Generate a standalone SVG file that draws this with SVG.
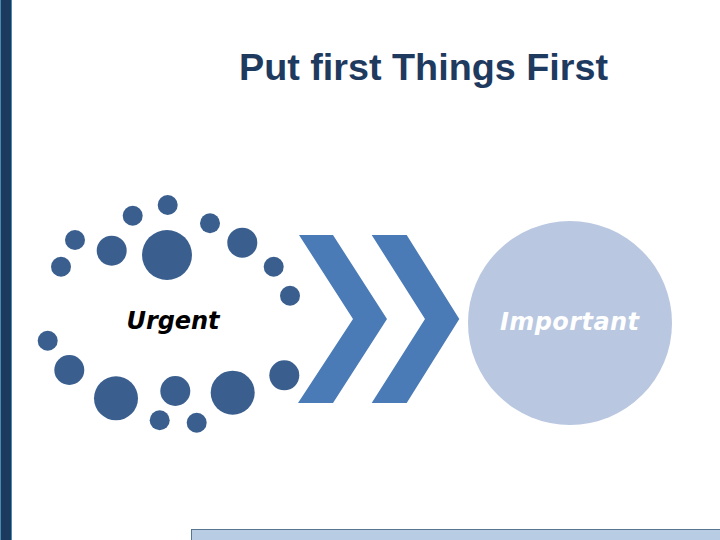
<svg xmlns="http://www.w3.org/2000/svg" width="720" height="540" viewBox="0 0 720 540">
<style>
.dot{fill:#3A5F8F}
.chev{fill:#4A7BB7}
.title{font-family:"Liberation Sans",Arial,sans-serif;font-weight:bold;font-size:37.5px;fill:#1F3A5F}
.lbl{font-family:"DejaVu Sans",Verdana,sans-serif;font-style:italic;font-weight:bold;font-size:24px}
</style>
<rect width="720" height="540" fill="#FFFFFF"/>
<g id="sidebar">
<rect x="0" y="0" width="12" height="540" fill="#1C3A5E"/>
<rect x="0" y="0" width="1" height="540" fill="#4A8AB0"/>
<rect x="11" y="0" width="1" height="540" fill="#4A8AB0"/>
</g>
<g id="footer-bar">
<rect x="191.5" y="529.5" width="530" height="12" fill="#B8CCE4" stroke="#5A7590" stroke-width="1"/>
</g>
<g id="title">
<text class="title" x="239" y="80" textLength="369" lengthAdjust="spacingAndGlyphs">Put first Things First</text>
</g>
<g id="urgent">
<circle class="dot" cx="167.7" cy="205" r="10"/>
<circle class="dot" cx="132.7" cy="215.7" r="10"/>
<circle class="dot" cx="75" cy="240" r="10"/>
<circle class="dot" cx="61" cy="266.7" r="10"/>
<circle class="dot" cx="111.7" cy="250.7" r="15"/>
<circle class="dot" cx="167" cy="255" r="25"/>
<circle class="dot" cx="210" cy="223.3" r="10"/>
<circle class="dot" cx="242.3" cy="242.7" r="15"/>
<circle class="dot" cx="273.7" cy="266.7" r="10"/>
<circle class="dot" cx="290" cy="295.7" r="10"/>
<circle class="dot" cx="47.7" cy="340.7" r="10"/>
<circle class="dot" cx="69.3" cy="370" r="15"/>
<circle class="dot" cx="116" cy="398.3" r="22"/>
<circle class="dot" cx="175.3" cy="391" r="15"/>
<circle class="dot" cx="159.7" cy="420.3" r="10"/>
<circle class="dot" cx="196.7" cy="422.7" r="10"/>
<circle class="dot" cx="232.7" cy="392.7" r="22"/>
<circle class="dot" cx="284.3" cy="375.3" r="15"/>
<text class="lbl" x="126.5" y="329" textLength="93" fill="#000000">Urgent</text>
</g>
<g id="connectors">
<polygon class="chev" points="299,235 333,235 387,319 333,403 298,403 353,319"/>
<polygon class="chev" points="371.7,235 406.7,235 459.3,319 406.7,403 371.7,403 425,319"/>
</g>
<g id="important">
<circle cx="570" cy="323" r="102" fill="#B9C7E0"/>
<text class="lbl" x="500" y="330" textLength="139" fill="#FFFFFF">Important</text>
</g>
</svg>
